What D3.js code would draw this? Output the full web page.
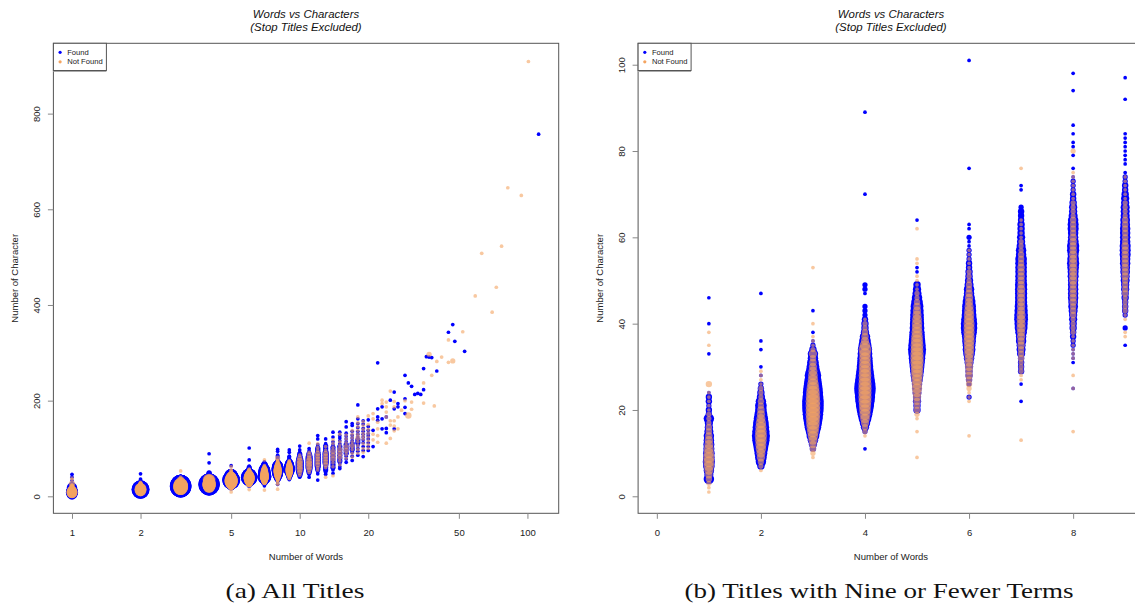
<!DOCTYPE html>
<html>
<head>
<meta charset="utf-8">
<script src="https://cdn.jsdelivr.net/npm/d3@7/dist/d3.min.js"></script>
<style>
  body { margin: 0; background: #fff; }
  svg { display: block; font-family: "Liberation Sans", Arial, sans-serif; }
</style>
</head>
<body>
<div id="chart"></div>
<script>
// Titles with 1..9 words: count of titles per character length, one array per word count
var wordCounts = [1, 2, 3, 4, 5, 6, 7, 8, 9];

var foundStart = [4, 7, 11, 11, 20, 23, 22, 31, 35];
var foundCounts = [
  [8,6,8,10,11,10,10,9,9,8,8,6,5,5,8,3,3,2,3,3,1],
  [4,8,10,12,15,18,22,24,22,20,18,15,12,10,10,8,5,4,3,2,0,1,0,1],
  [3,5,8,12,15,20,24,28,31,33,34,34,32,30,27,24,21,20,15,12,10,8,8,4,2,1],
  [1,0,0,0,2,5,8,12,16,20,24,27,30,32,34,32,28,25,22,20,18,17,16,15,12,10,8,5,4,4,3,2,2,2,0,0,1,2,2],
  [4,4,5,5,6,7,8,10,12,14,16,18,20,22,24,22,20,18,17,16,15,14,14,13,12,10,8,6,5,4,0,0,1,1],
  [2,0,0,2,3,4,4,5,6,8,10,12,12,14,15,18,20,20,18,16,15,14,12,10,8,8,6,5,4,4,3,3,2,2,2,1,1,2,0,1,1],
  [1,0,0,0,1,0,0,3,3,3,3,5,6,6,8,8,10,12,13,14,14,13,12,11,11,11,11,11,10,10,10,10,10,10,8,8,6,5,5,4,4,4,3,3,3,2],
  [1,1,1,1,2,2,3,3,4,4,5,5,6,7,7,8,8,8,8,8,9,9,10,11,10,9,11,11,9,8,8,9,9,8,6,5,5,4,3,3,2,2,2,1,0,1],
  [1,0,0,0,2,0,0,2,3,3,3,4,4,5,5,6,6,7,7,8,8,9,9,9,8,8,8,8,7,7,6,6,6,5,5,4,3,3,2,2,1,0,1,1,1,1,1,1,1,1]
];
// [words, characters, titles]
var foundExtra = [
  [1,33,1],[1,40,1],[1,46,1],[2,34,1],[2,36,1],[2,47,1],[3,38,1],[3,43,1],
  [4,70,1],[4,89,1],[5,64,1],[6,76,1],[6,101,1],[7,71,1],[7,72,1],
  [8,25,1],[8,79,1],[8,81,1],[8,82,1],[8,84,1],[8,86,1],[8,94,1],[8,98,1],[9,92,1],[9,97,1]
];

var notFoundStart = [1, 6, 9, 14, 18, 22, 27, 32, 37];
var notFoundCounts = [
  [1,1,2,3,4,6,8,9,9,8,7,6,5,4,3,3,2,2,2,1,1,1,1,1,0,3],
  [1,2,3,5,6,8,9,10,11,10,9,8,6,5,4,3,3,2,2,2,1,1,1,1],
  [1,2,3,4,6,8,10,12,14,15,16,16,16,16,15,14,12,10,8,7,6,5,4,3,5,2,1,1,1],
  [1,2,3,5,7,9,10,11,12,13,13,13,13,12,12,11,11,10,10,10,12,8,5,4,3,2,2,1],
  [1,2,3,3,4,5,6,8,8,9,10,11,12,13,13,13,12,12,11,10,9,8,8,7,6,5,4,3,2,2,1,1,1,1,0,0,1,1],
  [1,1,1,2,3,3,4,4,5,5,6,7,8,8,9,9,9,9,9,8,8,7,6,5,5,4,3,3,2,2,2,1,1,1,1,1],
  [1,1,2,2,2,3,3,3,4,4,5,5,6,6,6,6,5,5,5,5,5,5,4,4,4,4,4,3,3,3,2,2,2,1,1,1,1,1],
  [1,1,1,1,1,1,2,2,2,2,3,3,3,4,4,4,4,4,5,5,5,5,5,5,5,4,4,4,4,3,3,3,3,2,2,2,2,1,1,1,1,1,1,1],
  [1,1,0,0,1,1,2,2,2,2,3,3,3,3,4,4,4,4,4,4,4,4,3,3,3,3,3,3,2,2,2,2,1,1,1,1,1,1]
];
var notFoundExtra = [
  [1,35,1],[1,38,1],[3,40,1],[3,53,1],[5,9,1],[5,15,1],[5,62,1],[6,14,1],
  [7,13,1],[7,76,1],[8,15,1],[8,25,1],[8,28,1],[8,80,2]
];

// Titles with 10+ words (only in the "All Titles" panel): [words, characters, titles]
var longFound = [
  [10,40,1],[10,44,2],[10,48,3],[10,52,4],[10,56,5],[10,60,5],[10,64,5],[10,68,5],[10,72,5],[10,76,4],[10,80,3],[10,84,2],[10,88,2],[10,92,1],[10,97,1],[10,105,1],
  [11,40,1],[11,46,1],[11,50,2],[11,55,3],[11,60,4],[11,65,4],[11,70,4],[11,75,4],[11,80,4],[11,85,3],[11,90,2],[11,95,1],[11,100,1],
  [12,34,1],[12,47,1],[12,52,1],[12,56,2],[12,60,2],[12,64,3],[12,68,3],[12,72,3],[12,76,3],[12,80,3],[12,84,3],[12,88,3],[12,92,2],[12,96,2],[12,100,2],[12,104,1],[12,108,1],[12,120,1],[12,127,1],
  [13,46,1],[13,50,1],[13,55,2],[13,60,2],[13,65,2],[13,70,3],[13,75,3],[13,80,3],[13,85,3],[13,90,3],[13,95,2],[13,100,2],[13,105,2],[13,110,1],[13,120,1],
  [14,48,1],[14,55,1],[14,60,2],[14,66,2],[14,72,2],[14,78,2],[14,84,2],[14,90,2],[14,96,2],[14,102,2],[14,108,1],[14,114,1],[14,124,1],[14,134,1],
  [15,58,1],[15,62,1],[15,68,1],[15,74,2],[15,80,2],[15,86,2],[15,92,2],[15,98,2],[15,104,2],[15,110,1],[15,116,1],[15,122,1],[15,127,1],[15,134,1],
  [16,71,1],[16,78,1],[16,84,1],[16,90,2],[16,96,2],[16,102,2],[16,108,2],[16,114,1],[16,120,1],[16,126,1],[16,132,1],[16,145,1],[16,156,1],
  [17,75,1],[17,84,1],[17,92,1],[17,98,2],[17,104,2],[17,110,2],[17,116,1],[17,122,1],[17,128,1],[17,136,1],[17,148,1],[17,152,1],
  [18,86,1],[18,94,1],[18,100,1],[18,106,1],[18,112,2],[18,118,2],[18,124,1],[18,130,1],[18,136,1],[18,144,1],[18,152,1],[18,162,1],[18,191,1],
  [19,83,1],[19,96,1],[19,104,1],[19,112,1],[19,118,1],[19,124,1],[19,130,1],[19,136,1],[19,142,1],[19,151,1],[19,158,1],
  [20,96,1],[20,104,1],[20,112,1],[20,120,1],[20,126,1],[20,131,1],[20,138,1],[20,146,1],[20,160,1],
  [21,104,1],[21,138,1],[22,279,1],[22,183,1],[22,166,1],[22,159,1],[23,187,1],[23,162,1],[23,141,1],
  [24,166,1],[24,142,1],[24,133,1],[25,201,1],[26,218,1],[26,183,1],[26,141,1],[27,187,1],[27,194,1],
  [29,253,1],[29,204,1],[29,186,1],[29,173,1],[30,237,1],[31,230,1],[32,213,1],[33,215,1],[34,213,1],
  [35,267,1],[35,223,1],[36,292,1],[37,291,1],[38,290,1],[40,262,1],[45,343,1],[47,359,1],[48,324,1],
  [53,303,1],[112,757,1]
];
var longNotFound = [
  [10,44,1],[10,50,2],[10,56,3],[10,62,3],[10,68,3],[10,74,3],[10,80,2],[10,86,1],
  [11,50,1],[11,56,2],[11,62,3],[11,68,3],[11,74,3],[11,80,2],[11,86,2],[11,92,1],[11,111,1],
  [12,55,1],[12,60,1],[12,66,2],[12,72,2],[12,78,2],[12,84,2],[12,90,2],[12,96,1],[12,102,1],[12,110,1],
  [13,40,1],[13,60,1],[13,66,2],[13,72,2],[13,78,2],[13,84,2],[13,90,2],[13,96,1],[13,104,1],
  [14,43,1],[14,62,1],[14,70,1],[14,78,2],[14,86,2],[14,94,2],[14,102,1],[14,110,1],[14,118,1],
  [15,66,1],[15,74,1],[15,82,2],[15,90,2],[15,98,2],[15,106,1],[15,114,1],[15,130,1],
  [16,80,1],[16,88,1],[16,96,2],[16,104,2],[16,112,1],[16,120,1],[16,128,1],
  [17,82,1],[17,90,1],[17,98,1],[17,106,2],[17,114,1],[17,122,1],[17,130,1],[17,138,1],
  [18,90,1],[18,98,1],[18,106,1],[18,114,1],[18,122,2],[18,130,1],[18,138,1],[18,146,1],[18,154,1],[18,166,1],
  [19,92,1],[19,100,1],[19,110,1],[19,120,1],[19,126,1],[19,132,1],[19,140,1],[19,148,1],[19,156,1],
  [20,100,1],[20,108,1],[20,116,1],[20,124,1],[20,132,1],[20,140,1],[20,150,1],[20,168,1],
  [21,162,1],[21,173,1],[21,130,1],[21,118,1],[22,155,1],[22,141,1],[22,127,1],[22,113,1],
  [23,201,1],[23,194,1],[24,176,1],[24,187,1],[24,197,1],[24,111,1],[24,166,1],
  [25,220,1],[25,158,1],[25,149,1],[25,121,1],[26,198,1],[26,187,1],[26,158,1],[26,147,1],[26,137,1],
  [27,141,1],[27,166,1],[28,180,1],[29,200,1],[30,169,3],[31,197,1],[31,182,1],[35,237,1],[35,195,1],
  [37,297,2],[38,253,1],[39,189,1],[40,282,1],[42,291,1],[45,327,1],[45,280,1],[47,283,2],[52,344,1],
  [59,419,1],[63,508,1],[70,385,1],[73,437,1],[77,523,1],[82,645,1],[94,629,1],[101,909,1]
];

var legendLabels = ["Found", "Not Found"];
var titleLines = ["Words vs Characters", "(Stop Titles Excluded)"];

// ---------- build point lists ----------
function expand(starts, counts, extras) {
  var pts = [];
  wordCounts.forEach(function(w, i) {
    counts[i].forEach(function(n, j) {
      if (n > 0) pts.push({words: w, chars: starts[i] + j, n: n});
    });
  });
  extras.forEach(function(e) { pts.push({words: e[0], chars: e[1], n: e[2]}); });
  return pts;
}
function toPoints(rows) {
  return rows.map(function(e) { return {words: e[0], chars: e[1], n: e[2]}; });
}

var shortFound = expand(foundStart, foundCounts, foundExtra);
var shortNotFound = expand(notFoundStart, notFoundCounts, notFoundExtra);
var allFound = shortFound.concat(toPoints(longFound));
var allNotFound = shortNotFound.concat(toPoints(longNotFound));

var blue = "#0000ff";
var orange = "#f4a460";

var rScale = d3.scaleSqrt().domain([0, 36]).range([0, 1.85 * 6]);

var svg = d3.select("#chart").append("svg")
  .attr("width", 1135)
  .attr("height", 605);

svg.append("rect").attr("width", 1135).attr("height", 605).attr("fill", "#fff");

function drawPanel(p) {
  var g = svg.append("g");
  var box = p.box;

  var clipId = "clip-" + p.id;
  svg.append("clipPath").attr("id", clipId)
    .append("rect")
    .attr("x", box.x0).attr("y", box.y0)
    .attr("width", box.x1 - box.x0).attr("height", box.y1 - box.y0);

  var plot = g.append("g").attr("clip-path", "url(#" + clipId + ")");

  // found first, not found drawn on top (semi transparent)
  plot.selectAll("circle.found")
    .data(p.found)
    .enter()
    .append("circle")
    .attr("class", "found")
    .attr("cx", d => p.x(d.words))
    .attr("cy", d => p.y(d.chars))
    .attr("r", d => rScale(d.n))
    .attr("fill", blue);

  plot.selectAll("circle.notfound")
    .data(p.notFound)
    .enter()
    .append("circle")
    .attr("class", "notfound")
    .attr("cx", d => p.x(d.words))
    .attr("cy", d => p.y(d.chars))
    .attr("r", d => rScale(d.n))
    .attr("fill", orange)
    .attr("fill-opacity", 0.6);

  // box
  g.append("rect")
    .attr("x", box.x0).attr("y", box.y0)
    .attr("width", box.x1 - box.x0).attr("height", box.y1 - box.y0)
    .attr("fill", "none")
    .attr("stroke", "#555")
    .attr("stroke-width", 1);

  // x axis
  var xAxis = g.append("g")
    .attr("transform", `translate(0, ${box.y1})`)
    .call(d3.axisBottom(p.x).tickValues(p.xTicks).tickFormat(d3.format("d")).tickSize(5.5).tickPadding(10.6));
  xAxis.select(".domain").remove();
  xAxis.selectAll("line").attr("stroke", "#888");
  xAxis.selectAll("text")
    .attr("font-size", "9.5px")
    .attr("font-family", "Liberation Sans, Arial, sans-serif")
    .attr("fill", "#222");

  // y axis, labels parallel to the axis
  var yAxis = g.append("g")
    .attr("transform", `translate(${box.x0}, 0)`)
    .call(d3.axisLeft(p.y).tickValues(p.yTicks).tickSize(5.5));
  yAxis.select(".domain").remove();
  yAxis.selectAll("line").attr("stroke", "#888");
  yAxis.selectAll("text")
    .attr("x", null)
    .attr("dy", "0.35em")
    .attr("text-anchor", "middle")
    .attr("transform", `translate(${p.yTickX - box.x0}, 0) rotate(-90)`)
    .attr("font-size", "9.5px")
    .attr("font-family", "Liberation Sans, Arial, sans-serif")
    .attr("fill", "#222");

  // axis titles
  g.append("text")
    .attr("x", p.titleX)
    .attr("y", 559.5)
    .attr("text-anchor", "middle")
    .attr("font-size", "9.5px")
    .attr("fill", "#222")
    .text("Number of Words");

  g.append("text")
    .attr("transform", `translate(${p.yLabelX}, ${(box.y0 + box.y1) / 2}) rotate(-90)`)
    .attr("dy", "0.35em")
    .attr("text-anchor", "middle")
    .attr("font-size", "9.5px")
    .attr("fill", "#222")
    .text("Number of Character");

  // main title
  g.selectAll("text.title")
    .data(titleLines)
    .enter()
    .append("text")
    .attr("class", "title")
    .attr("x", p.titleX)
    .attr("y", (d, i) => 18 + i * 12.8)
    .attr("text-anchor", "middle")
    .attr("font-size", "11.4px")
    .attr("font-style", "italic")
    .attr("fill", "#111")
    .text(d => d);

  // legend
  var lg = g.append("g").attr("transform", `translate(${box.x0}, ${box.y0})`);
  lg.append("rect")
    .attr("x", 0).attr("y", 0)
    .attr("width", 53).attr("height", 27.2)
    .attr("fill", "#fff")
    .attr("stroke", "#555")
    .attr("stroke-width", 1);
  lg.append("line")
    .attr("x1", 0).attr("x2", 53)
    .attr("y1", 28.2).attr("y2", 28.2)
    .attr("stroke", "#aaa")
    .attr("stroke-width", 1);
  lg.selectAll("circle")
    .data(legendLabels)
    .enter()
    .append("circle")
    .attr("cx", 6.7)
    .attr("cy", (d, i) => 9 + i * 9.5)
    .attr("r", 1.6)
    .attr("fill", (d, i) => i === 0 ? blue : orange);
  lg.selectAll("text")
    .data(legendLabels)
    .enter()
    .append("text")
    .attr("x", 13.8)
    .attr("y", (d, i) => 9 + i * 9.5)
    .attr("dy", "0.35em")
    .attr("font-size", "7.6px")
    .attr("fill", "#222")
    .text(d => d);

  // sub-figure caption
  svg.append("text")
    .attr("x", p.captionX)
    .attr("y", 598)
    .attr("text-anchor", "middle")
    .attr("font-family", "Liberation Serif, Times New Roman, serif")
    .attr("font-size", "22px")
    .attr("textLength", p.captionW)
    .attr("lengthAdjust", "spacingAndGlyphs")
    .attr("fill", "#111")
    .text(p.caption);
}

// (a) all titles, log x axis
drawPanel({
  id: "a",
  box: {x0: 53.4, x1: 558.7, y0: 43.3, y1: 513.3},
  x: d3.scaleLog().domain([0.8286, 137.2]).range([53.4, 558.7]),
  y: d3.scaleLinear().domain([-35.5, 947]).range([513.3, 43.3]),
  xTicks: [1, 2, 5, 10, 20, 50, 100],
  yTicks: [0, 200, 400, 600, 800],
  found: allFound,
  notFound: allNotFound,
  titleX: 306,
  yTickX: 36.4,
  yLabelX: 14.5,
  caption: "(a) All Titles",
  captionX: 295,
  captionW: 139
});

// (b) titles with nine or fewer terms
drawPanel({
  id: "b",
  box: {x0: 638.1, x1: 1143.9, y0: 43.3, y1: 513.3},
  x: d3.scaleLinear().domain([-0.36, 9.36]).range([638.1, 1143.9]),
  y: d3.scaleLinear().domain([-3.94, 104.96]).range([513.3, 43.3]),
  xTicks: [0, 2, 4, 6, 8],
  yTicks: [0, 20, 40, 60, 80, 100],
  found: shortFound,
  notFound: shortNotFound,
  titleX: 891,
  yTickX: 622,
  yLabelX: 599.5,
  caption: "(b) Titles with Nine or Fewer Terms",
  captionX: 879,
  captionW: 389
});
</script>
</body>
</html>
